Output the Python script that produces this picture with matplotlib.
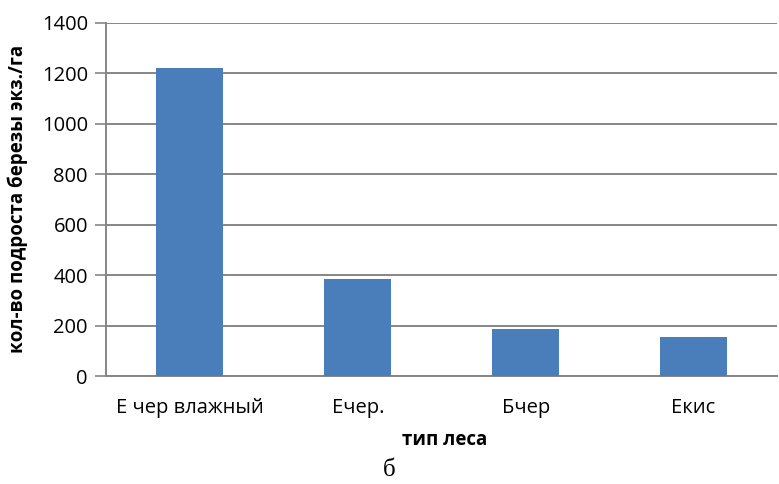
import numpy as np
import matplotlib.pyplot as plt

# forest types and birch undergrowth counts (pcs/ha)
forest_types = ["Е чер влажный", "Ечер.", "Бчер", "Екис"]
undergrowth = [1220, 385, 185, 153]
y_ticks = [0, 200, 400, 600, 800, 1000, 1200, 1400]

plt.rcParams["font.family"] = ["Open Sans", "DejaVu Sans"]

fig = plt.figure(figsize=(7.79, 4.84), dpi=100)
ax = fig.add_axes([0.136, 0.223, 0.862, 0.730])

x = np.arange(len(forest_types))
ax.bar(x, undergrowth, width=0.4, color="#4a7ebb", zorder=3)

ax.set_xlim(-0.5, len(forest_types) - 0.5)
ax.set_ylim(0, 1400)
ax.set_yticks(y_ticks)
ax.set_yticklabels([str(v) for v in y_ticks], fontsize=14.5)
ax.set_xticks(x)
ax.set_xticklabels(forest_types, fontsize=14.5)
ax.tick_params(axis="x", length=0, pad=16)
ax.tick_params(axis="y", length=8, color="#868686", width=1.2, pad=5)

ax.grid(True, axis="y", color="#868686", linewidth=1.4, zorder=0)
for side in ["top", "right"]:
    ax.spines[side].set_visible(False)
for side in ["left", "bottom"]:
    ax.spines[side].set_color("#868686")
    ax.spines[side].set_linewidth(1.4)

ax.set_ylabel("кол-во подроста березы экз./га", fontsize=13.5, fontweight="bold", va="center")
ax.yaxis.set_label_coords(-0.131, 0.5)
ax.set_xlabel("тип леса", fontsize=13.5, fontweight="bold", va="center")
ax.xaxis.set_label_coords(0.505, -0.181)

fig.text(0.5, 0.029, "б", fontsize=18, family="Liberation Serif", ha="center", va="center")

fig.savefig("out.png", dpi=100)
